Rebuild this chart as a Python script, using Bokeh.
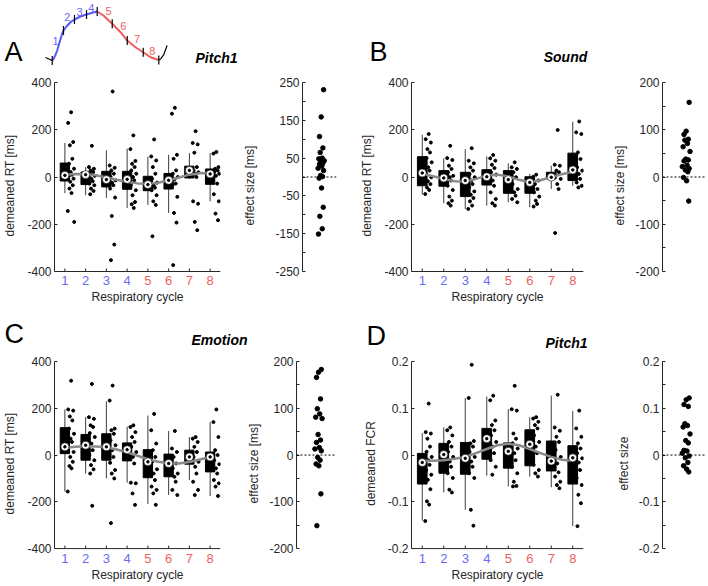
import numpy as np
from bokeh.plotting import figure
from bokeh.models import Range1d, FixedTicker, ColumnDataSource, Span
from bokeh.layouts import column, row
from bokeh.embed import file_html
from bokeh.resources import INLINE
from bokeh.core.properties import value

# ---------------- data ----------------
bins = [1, 2, 3, 4, 5, 6, 7, 8]
bin_labels = ["1", "2", "3", "4", "5", "6", "7", "8"]
fit_x = [1, 1.5, 2, 2.5, 3, 3.5, 4, 4.5, 5, 5.5, 6, 6.5, 7, 7.5, 8]

# Panel A (Pitch1, RT)
A_q1 = [-17, -32, -42, -52, -58, -51, -4, -31]
A_q3 = [59, 21, 24, 24, 3, 15, 46, 34]
A_wlo = [-68, -77, -89, -131, -118, -152, -8, -103]
A_whi = [144, 42, 113, 120, 86, 94, 101, 101]
A_med = [7, 10, -11, -10, -32, -14, 28, 13]
A_pts = [
    [274, 229, 148, 134, 77, 56, 35, 21, 10, 3, -7, -20, -35, -49, -68, -144, -190],
    [132, 42, 35, 28, 21, 14, 5, -7, -18, -28, -35, -49, -59, -73],
    [362, 49, 39, 28, 14, 0, -14, -25, -35, -49, -87, -165, -286, -352],
    [176, 118, 68, 56, 42, 28, 14, 0, -14, -35, -56, -77, -106, -115, -131],
    [159, 87, 70, 42, 14, -7, -24, -35, -45, -56, -77, -103, -118, -251],
    [293, 268, 94, 77, 28, 14, 0, -10, -28, -35, -84, -152, -193, -373],
    [194, 144, 138, 103, 42, 28, 20, 14, 0, -103, -113, -190, -225],
    [106, 99, 42, 35, 28, 21, 14, 5, -28, -73, -103, -155, -183],
]
A_fit = [10, 13, 12, 7, -2, -12, -21, -27, -29, -24, -14, -2, 10, 16, 17]
A_side = [231, 159, 107, 77, 65, 50, 48, 43, 41, 37, 34, 29, 23, 17, 4, 1, -3, -29, -80, -104, -137, -151]

# Panel B (Sound, RT)
B_q1 = [-37, -39, -83, -34, -69, -69, -8, -15]
B_q3 = [86, 27, 20, 31, 27, 1, 20, 101]
B_wlo = [-75, -111, -135, -121, -107, -128, -51, -37]
B_whi = [179, 79, 118, 87, 58, 13, 48, 234]
B_med = [17, -4, -15, 1, -11, -23, -1, 30]
B_pts = [
    [182, 160, 146, 118, 104, 80, 62, 41, 27, 13, -1, -18, -30, -44, -55, -72],
    [132, 80, 72, 48, 34, 20, 5, -1, -15, -37, -55, -83, -100, -111, -121],
    [122, 69, 58, 41, 27, 13, -1, -15, -30, -44, -61, -75, -89, -103, -121, -135],
    [93, 79, 69, 52, 38, 20, 10, -15, -37, -65, -93, -111, -121],
    [62, 41, 34, 20, -1, -30, -51, -65, -79, -93, -107],
    [10, 1, -15, -30, -51, -65, -83, -100, -114, -125],
    [199, 52, 48, 27, 20, 6, -8, -30, -51, -237],
    [235, 189, 182, 104, 76, 41, 27, 13, -8, -23, -37, -44],
]
B_fit = [15, 3, -8, -18, -20, -8, 6, 10, 2, -12, -22, -14, 0, 12, 22]
B_side = [158, 97, 90, 80, 78, 71, 64, 54, 38, 36, 34, 25, 22, 18, 15, 11, -1, -8, -51]

# Panel C (Emotion, RT)
C_q1 = [6, -22, -22, -25, -97, -93, -39, -72]
C_q3 = [117, 88, 91, 52, 23, 4, 21, 13]
C_wlo = [-156, -79, -100, -118, -210, -171, -107, -175]
C_whi = [195, 162, 230, 122, 169, 103, 77, 141]
C_med = [35, 42, 35, 23, -29, -36, -8, -8]
C_pts = [
    [318, 195, 190, 165, 148, 113, 91, 70, 56, 35, 13, -8, -29, -47, -57, -156],
    [304, 162, 155, 127, 120, 94, 77, 49, 21, 0, -22, -43, -61, -79, -217],
    [297, 233, 113, 106, 91, 63, 42, 21, -8, -33, -64, -79, -100, -291],
    [127, 120, 98, 77, 56, 35, 13, -8, -36, -118, -121, -164, -213],
    [176, 106, 49, 21, -8, -29, -61, -79, -107, -135, -149, -164, -213],
    [103, 28, 13, -8, -36, -57, -79, -93, -114, -149, -171],
    [77, 70, 56, 35, 13, -8, -29, -50, -79, -114, -149, -171],
    [195, 141, 77, 21, 0, -22, -39, -57, -79, -107, -121, -135, -175],
]
C_fit = [30, 35, 38, 37, 33, 24, 12, -3, -18, -29, -35, -36, -30, -19, -8]
C_side = [183, 177, 166, 120, 99, 88, 81, 78, 44, 32, 27, 16, 13, 9, -5, -11, -19, -23, -83, -151]

# Panel D (Pitch1, FCR)
D_q1 = [-0.062, -0.039, -0.041, -0.009, -0.028, -0.023, -0.034, -0.062]
D_q3 = [0.0035, 0.025, 0.027, 0.057, 0.026, 0.054, 0.030, 0.020]
D_wlo = [-0.140, -0.080, -0.117, -0.044, -0.067, -0.046, -0.069, -0.152]
D_whi = [0.047, 0.059, 0.122, 0.125, 0.098, 0.081, 0.127, 0.094]
D_med = [-0.016, 0.001, -0.007, 0.035, 0.008, 0.023, -0.013, -0.006]
D_pts = [
    [0.110, 0.049, 0.046, 0.035, 0.018, 0.007, -0.004, -0.011, -0.021, -0.032, -0.042, -0.053, -0.073, -0.099, -0.106, -0.141],
    [0.059, 0.053, 0.042, 0.028, 0.018, 0.007, -0.004, -0.014, -0.025, -0.039, -0.049, -0.074, -0.080],
    [0.193, 0.122, 0.030, 0.025, 0.018, 0.007, -0.004, -0.014, -0.025, -0.039, -0.049, -0.117, -0.151],
    [0.127, 0.117, 0.074, 0.064, 0.053, 0.042, 0.028, 0.018, 0.004, -0.011, -0.025, -0.042],
    [0.148, 0.098, 0.095, 0.046, 0.035, 0.025, 0.014, 0.004, -0.011, -0.025, -0.039, -0.057, -0.066, -0.067],
    [0.081, 0.078, 0.071, 0.064, 0.057, 0.042, 0.028, 0.018, 0.004, -0.021, -0.032, -0.039, -0.046],
    [0.129, 0.059, 0.052, 0.039, 0.028, 0.011, -0.004, -0.018, -0.037, -0.046, -0.057, -0.064, -0.071],
    [0.095, 0.057, 0.039, 0.025, 0.014, 0.004, -0.007, -0.016, -0.032, -0.049, -0.064, -0.085, -0.103, -0.152],
]
D_fit = [-0.012, -0.012, -0.011, -0.008, -0.004, 0.004, 0.013, 0.021, 0.024, 0.021, 0.013, 0.004, -0.004, -0.010, -0.012]
D_side = [0.122, 0.118, 0.108, 0.104, 0.067, 0.063, 0.060, 0.045, 0.031, 0.026, 0.010, 0.0085, 0.004, -0.002, -0.006, -0.016, -0.023, -0.030, -0.036]

# jitter offsets of the individual dots (right of each box / inside the side strip)
pt_jitter = [0.30, 0.16, 0.40, 0.24, 0.36, 0.20, 0.44, 0.28, 0.34, 0.18, 0.42, 0.26, 0.38, 0.22, 0.32, 0.14, 0.45]
side_jitter = [0.62, 0.55, 0.50, 0.60, 0.52, 0.58, 0.48, 0.64, 0.54, 0.60, 0.50, 0.57, 0.46, 0.62, 0.53, 0.59, 0.49, 0.56, 0.61, 0.51, 0.58, 0.47]

# respiratory-cycle schematic (time normalised 0..1, amplitude normalised 0..1)
resp_pre_t = [-0.063, 0.0]
resp_pre_a = [0.061, 0.0]
resp_in_t = [0.0, 0.015, 0.03, 0.047, 0.07, 0.094, 0.106, 0.14, 0.172, 0.209, 0.265, 0.322, 0.375, 0.422]
resp_in_a = [0.0, 0.04, 0.11, 0.204, 0.38, 0.551, 0.612, 0.71, 0.782, 0.837, 0.898, 0.939, 0.973, 1.0]
resp_ex_t = [0.422, 0.481, 0.563, 0.641, 0.704, 0.781, 0.854, 0.922, 1.0]
resp_ex_a = [1.0, 0.918, 0.749, 0.578, 0.408, 0.271, 0.169, 0.067, 0.01]
resp_post_t = [1.0, 1.016, 1.047, 1.078]
resp_post_a = [0.01, 0.03, 0.122, 0.306]
resp_bound_t = [0.0, 0.106, 0.209, 0.322, 0.422, 0.563, 0.704, 0.854, 1.0]
resp_bound_a = [0.0, 0.612, 0.837, 0.939, 1.0, 0.749, 0.408, 0.169, 0.01]
resp_lab_t = [0.031, 0.141, 0.256, 0.366, 0.528, 0.666, 0.797, 0.938]
resp_lab_a = [0.408, 0.884, 1.0, 1.07, 1.02, 0.714, 0.429, 0.204]

# ---------------- style ----------------
FONT = "Liberation Sans"
AXC = "#262626"
BLUE = "#6a6af4"
RED = "#ee5f5f"
bin_colors = [BLUE] * 4 + [RED] * 4
PAGE_W = 708
NUM_ROW_PX = 17     # band under the data area that carries the coloured bin numbers


def style_axis(ax, label_standoff=7):
    ax.axis_line_color = AXC
    ax.major_tick_line_color = AXC
    ax.minor_tick_line_color = AXC
    ax.major_tick_in = 3
    ax.major_tick_out = 0
    ax.minor_tick_in = 3
    ax.minor_tick_out = 0
    ax.major_label_text_font = FONT
    ax.major_label_text_font_size = "12px"
    ax.major_label_text_color = AXC
    ax.major_label_standoff = 3
    ax.axis_label_text_font = FONT
    ax.axis_label_text_font_size = "12px"
    ax.axis_label_text_font_style = "normal"
    ax.axis_label_text_color = AXC
    ax.axis_label_standoff = label_standoff


def base_fig(w, h, fl, ft, fw, fh, xr, yr, **kw):
    p = figure(width=w, height=h, x_range=xr, y_range=yr, output_backend="svg",
               toolbar_location=None, min_border_left=fl, min_border_top=ft,
               min_border_right=w - fl - fw, min_border_bottom=h - ft - fh,
               background_fill_color="white", border_fill_color="white", **kw)
    p.outline_line_color = None
    for g in p.grid:
        g.visible = False
    return p


def extended_fig(col, rowg, ylim, xr):
    """Figure whose frame = data area plus a band below it for the bin numbers."""
    w, fl, fw = col
    h, ft, fh = rowg
    ylo, yhi = ylim
    per_px = (yhi - ylo) / fh
    p = base_fig(w, h, fl, ft, fw, fh + NUM_ROW_PX, xr,
                 Range1d(ylo - NUM_ROW_PX * per_px, yhi))
    return p, per_px


def main_panel(col, rowg, ylim, yticks, ytext, ylabel, q1, q3, wlo, whi, med, pts, fit_y,
               lab_standoff, num_px):
    ylo, yhi = ylim
    p, per_px = extended_fig(col, rowg, ylim, Range1d(0.5, 8.5))

    style_axis(p.yaxis[0], 7)
    p.yaxis.ticker = FixedTicker(ticks=yticks)
    p.yaxis.major_label_overrides = dict(zip(yticks, ytext))
    p.yaxis.axis_label = ylabel
    p.yaxis.bounds = (ylo, yhi)

    # x axis: baseline + inward ticks at the bottom of the data area, coloured numbers below
    ax = p.xaxis[0]
    style_axis(ax, lab_standoff)
    ax.ticker = FixedTicker(ticks=[])
    ax.major_label_standoff = 0
    ax.axis_line_color = None
    ax.major_tick_line_color = None
    ax.axis_label = "Respiratory cycle"
    p.add_layout(Span(location=ylo, dimension="width", line_color=AXC, line_width=1))
    p.segment(x0=bins, y0=[ylo] * 8, x1=bins, y1=[ylo + 3 * per_px] * 8,
              line_color=AXC, line_width=1)
    p.text(x=bins, y=[ylo - num_px * per_px] * 8, text=bin_labels, text_color=bin_colors,
           text_font=value(FONT), text_font_size="13px", text_align="center",
           text_baseline="middle")

    src = ColumnDataSource(dict(x=bins, q1=q1, q3=q3, lo=wlo, hi=whi, med=med))
    p.segment(x0="x", y0="lo", x1="x", y1="hi", source=src, line_color="#3c3c3c", line_width=1)
    p.vbar(x="x", bottom="q1", top="q3", width=0.45, source=src,
           fill_color="black", line_color="black")
    xs, ys = [], []
    for b, vals in zip(bins, pts):
        for i, v in enumerate(vals):
            xs.append(b + pt_jitter[i % len(pt_jitter)])
            ys.append(v)
    p.scatter(xs, ys, size=3, color="black")
    p.line(fit_x, fit_y, line_color="#8a8a8a", line_width=2.5)
    p.scatter("x", "med", source=src, size=8, fill_color="white", line_color="black", line_width=0.6)
    p.scatter("x", "med", source=src, size=2.5, fill_color="black", line_color="black")
    return p


def side_panel(col, rowg, ylim, majors, mtext, minors, ylabel, vals, lab_standoff=5):
    ylo, yhi = ylim
    p, per_px = extended_fig(col, rowg, ylim, Range1d(0, 1))
    p.xaxis.visible = False
    style_axis(p.yaxis[0], lab_standoff)
    p.yaxis.ticker = FixedTicker(ticks=majors, minor_ticks=minors)
    p.yaxis.major_label_overrides = dict(zip(majors, mtext))
    p.yaxis.axis_label = ylabel
    p.yaxis.bounds = (ylo, yhi)
    p.add_layout(Span(location=0, dimension="width", line_color="black",
                      line_dash="2 2", line_width=1))
    p.scatter(side_jitter[:len(vals)], vals, size=4.5, color="black")
    return p


def header_text(p, x, y, text, size, style="normal", align="left"):
    p.text(x=[x], y=[y], text=[text], x_range_name="px", y_range_name="py",
           text_font=value(FONT), text_font_size=size, text_font_style=style,
           text_color="black", text_align=align, text_baseline="middle")


def header_strip(h, xr=None, yr=None):
    p = figure(width=PAGE_W, height=h,
               x_range=xr if xr is not None else Range1d(0, PAGE_W),
               y_range=yr if yr is not None else Range1d(h, 0),
               output_backend="svg", toolbar_location=None, min_border=0,
               x_axis_location=None, y_axis_location=None,
               background_fill_color="white", border_fill_color="white")
    p.outline_line_color = None
    for g in p.grid:
        g.visible = False
    p.extra_x_ranges = {"px": Range1d(0, PAGE_W)}
    p.extra_y_ranges = {"py": Range1d(h, 0)}
    return p


# ---------------- geometry (page pixels) ----------------
colA = (240, 48, 172)     # (canvas width, left border, frame width)
colSA = (110, 56, 40)
colB = (250, 61, 172)
colSB = (108, 62, 43)
row1 = (242, 16, 189)     # (canvas height, top border, data-area height)
row2 = (234, 11, 188)
S1_H, S2_H = 66, 42

rt_ticks = [-400, -200, 0, 200, 400]
rt_text = ["-400", "-200", "0", "200", "400"]

pA = main_panel(colA, row1, (-400, 400), rt_ticks, rt_text, "demeaned RT [ms]",
                A_q1, A_q3, A_wlo, A_whi, A_med, A_pts, A_fit, 1, 9)
sA = side_panel(colSA, row1, (-250, 250), [-250, -150, -50, 50, 150, 250],
                ["-250", "-150", "-50", "50", "150", "250"], [-200, -100, 0, 100, 200],
                "effect size [ms]", A_side, lab_standoff=15)
pB = main_panel(colB, row1, (-400, 400), rt_ticks, rt_text, "demeaned RT [ms]",
                B_q1, B_q3, B_wlo, B_whi, B_med, B_pts, B_fit, 1, 9)
sB = side_panel(colSB, row1, (-200, 200), [-200, -100, 0, 100, 200],
                ["-200", "-100", "0", "100", "200"], [-150, -50, 50, 150],
                "effect size [ms]", B_side)
pC = main_panel(colA, row2, (-400, 400), rt_ticks, rt_text, "demeaned RT [ms]",
                C_q1, C_q3, C_wlo, C_whi, C_med, C_pts, C_fit, 2, 10)
sC = side_panel(colSA, row2, (-200, 200), [-200, -100, 0, 100, 200],
                ["-200", "-100", "0", "100", "200"], [-150, -50, 50, 150],
                "effect size [ms]", C_side)
pD = main_panel(colB, row2, (-0.2, 0.2), [-0.2, -0.1, 0, 0.1, 0.2],
                ["-0.2", "-0.1", "0", "0.1", "0.2"], "demeaned FCR",
                D_q1, D_q3, D_wlo, D_whi, D_med, D_pts, D_fit, 2, 10)
sD = side_panel(colSB, row2, (-0.2, 0.2), [-0.2, -0.1, 0, 0.1, 0.2],
                ["-0.2", "-0.1", "0", "0.1", "0.2"], [-0.15, -0.05, 0.05, 0.15],
                "effect size", D_side)

# ---------------- top strip with the respiratory schematic ----------------
T0_PX, T_SCALE = 51.7, 106.6      # page x of t=0, px per unit t
A0_PY, A_SCALE = 60.0, 49.0       # page y of amplitude 0, px per unit amplitude
xr = Range1d(-T0_PX / T_SCALE, (PAGE_W - T0_PX) / T_SCALE)
yr = Range1d((A0_PY - S1_H) / A_SCALE, A0_PY / A_SCALE)
strip = header_strip(S1_H, xr, yr)
strip.line(resp_pre_t, resp_pre_a, line_color="black", line_width=1.2)
strip.line(resp_post_t, resp_post_a, line_color="black", line_width=1.2)
strip.line(resp_in_t, resp_in_a, line_color="#5a5af5", line_width=2)
strip.line(resp_ex_t, resp_ex_a, line_color="#f25a5a", line_width=2)
tick_half = 4.5 / A_SCALE
strip.segment(x0=resp_bound_t, y0=[a - tick_half for a in resp_bound_a],
              x1=resp_bound_t, y1=[a + tick_half for a in resp_bound_a],
              line_color="black", line_width=1.2)
strip.text(x=resp_lab_t, y=resp_lab_a, text=bin_labels, text_color=bin_colors,
           text_font=value(FONT), text_font_size="11px", text_align="center",
           text_baseline="middle")
header_text(strip, 4, 51, "A", "27px")
header_text(strip, 216, 57, "Pitch1", "14px", "bold italic", "center")
header_text(strip, 369, 51, "B", "27px")
header_text(strip, 565, 56, "Sound", "14px", "bold italic", "center")

strip2 = header_strip(S2_H)
header_text(strip2, 4, 25, "C", "27px")
header_text(strip2, 219, 31, "Emotion", "14px", "bold italic", "center")
header_text(strip2, 366, 27, "D", "27px")
header_text(strip2, 566, 34, "Pitch1", "14px", "bold italic", "center")

layout = column(
    strip,
    row(pA, sA, pB, sB),
    strip2,
    row(pC, sC, pD, sD),
)

with open("out.html", "w") as f:
    f.write(file_html(layout, INLINE))
